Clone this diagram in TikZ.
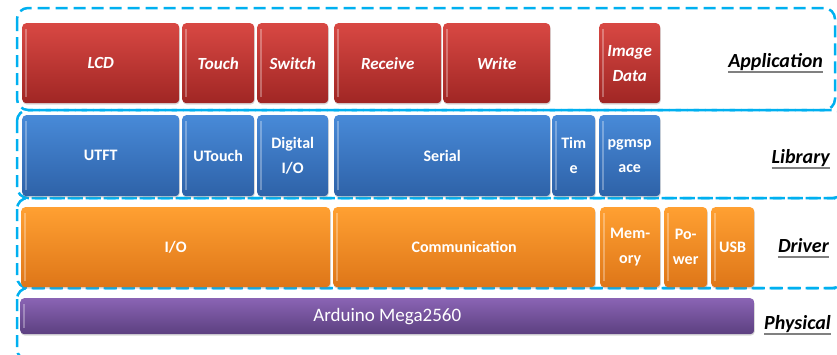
\documentclass[tikz,border=0pt]{standalone}
\usepackage{fontspec}
\setmainfont{Carlito}
\usetikzlibrary{shadows}

\definecolor{layerline}{RGB}{0,176,240}
\definecolor{appTop}{RGB}{216,72,67}
\definecolor{appBot}{RGB}{160,38,36}
\definecolor{libTop}{RGB}{72,138,216}
\definecolor{libBot}{RGB}{46,98,168}
\definecolor{drvTop}{RGB}{255,160,50}
\definecolor{drvBot}{RGB}{222,118,24}
\definecolor{phyTop}{RGB}{138,100,180}
\definecolor{phyBot}{RGB}{92,64,128}

\begin{document}
\begin{tikzpicture}[x=1pt,y=-1pt,
  layer/.style={draw=layerline, line width=2.5pt, dash pattern=on 12pt off 6pt, rounded corners=11pt},
  blk/.style={anchor=north west, inner sep=0pt, rounded corners=4pt, text=white, align=center,
    font=\bfseries\fontsize{16}{25}\selectfont,
    drop shadow={opacity=.3, shadow xshift=.6pt, shadow yshift=-1.4pt},
    path picture={\fill[white,opacity=.3,sharp corners]
      ([xshift=3pt,yshift=-6pt]path picture bounding box.north west) rectangle
      ([xshift=4.5pt,yshift=6pt]path picture bounding box.south west);}},
  appbox/.style={blk, top color=appTop, bottom color=appBot, minimum height=80pt,
    font=\bfseries\itshape\fontsize{17}{25}\selectfont},
  libbox/.style={blk, top color=libTop, bottom color=libBot, minimum height=81pt},
  drvbox/.style={blk, top color=drvTop, bottom color=drvBot, minimum height=80pt},
  phybox/.style={blk, top color=phyTop, bottom color=phyBot, minimum height=36pt,
    font=\fontsize{19}{22}\selectfont},
  lbl/.style={anchor=base east, inner sep=0pt, font=\bfseries\itshape\fontsize{20}{24}\selectfont}
]
\useasboundingbox (0,0) rectangle (837,354);
\clip (0,0) rectangle (837,354);

% Couches
\draw[layer] (17,8) rectangle (835,110);
\draw[layer] (17,110) rectangle (844,198);
\draw[layer] (17,198) rectangle (844,288);
\draw[layer] (17,288) rectangle (844,360);

% Application
\node[appbox, minimum width=157pt] (lcd) at (22,23) {LCD};
\node[appbox, minimum width=72pt] (touch) at (182,23) {Touch};
\node[appbox, minimum width=71pt] (switch) at (257,23) {Switch};
\node[appbox, minimum width=107pt] (receive) at (334,23) {Receive};
\node[appbox, minimum width=107pt] (write) at (443,23) {Write};
\node[appbox, minimum width=61pt] (image) at (599,23) {Image\\Data};

% Library
\node[libbox, minimum width=157pt] (utft) at (22,115) {UTFT};
\node[libbox, minimum width=72pt] (utouch) at (182,115) {UTouch};
\node[libbox, minimum width=71pt] (digital) at (257,115) {Digital\\I/O};
\node[libbox, minimum width=216pt] (serial) at (334,115) {Serial};
\node[libbox, minimum width=43pt] (time) at (552,115) {Tim\\e};
\node[libbox, minimum width=61pt] (pgm) at (599,115) {pgmsp\\ace};

% Driver
\node[drvbox, minimum width=309pt] (io) at (21,207) {I/O};
\node[drvbox, minimum width=262pt] (comm) at (333,207) {Communication};
\node[drvbox, minimum width=60pt] (memory) at (600,207) {Mem-\\ory};
\node[drvbox, minimum width=43pt] (power) at (664,207) {Po-\\wer};
\node[drvbox, minimum width=43pt] (usb) at (711,207) {USB};

% Physical
\node[phybox, minimum width=734pt] (mega) at (20,298) {Arduino Mega2560};

% Noms des couches
\node[lbl] (application) at (823,67) {Application};
\node[lbl] (library) at (830,163) {Library};
\node[lbl] (driver) at (829,252) {Driver};
\node[lbl] (physical) at (831,329) {Physical};
\foreach \n in {application,library,driver,physical}
  \draw[gray, line width=2pt] ([yshift=-5pt]\n.base west) -- ([yshift=-5pt]\n.base east);
\end{tikzpicture}
\end{document}
